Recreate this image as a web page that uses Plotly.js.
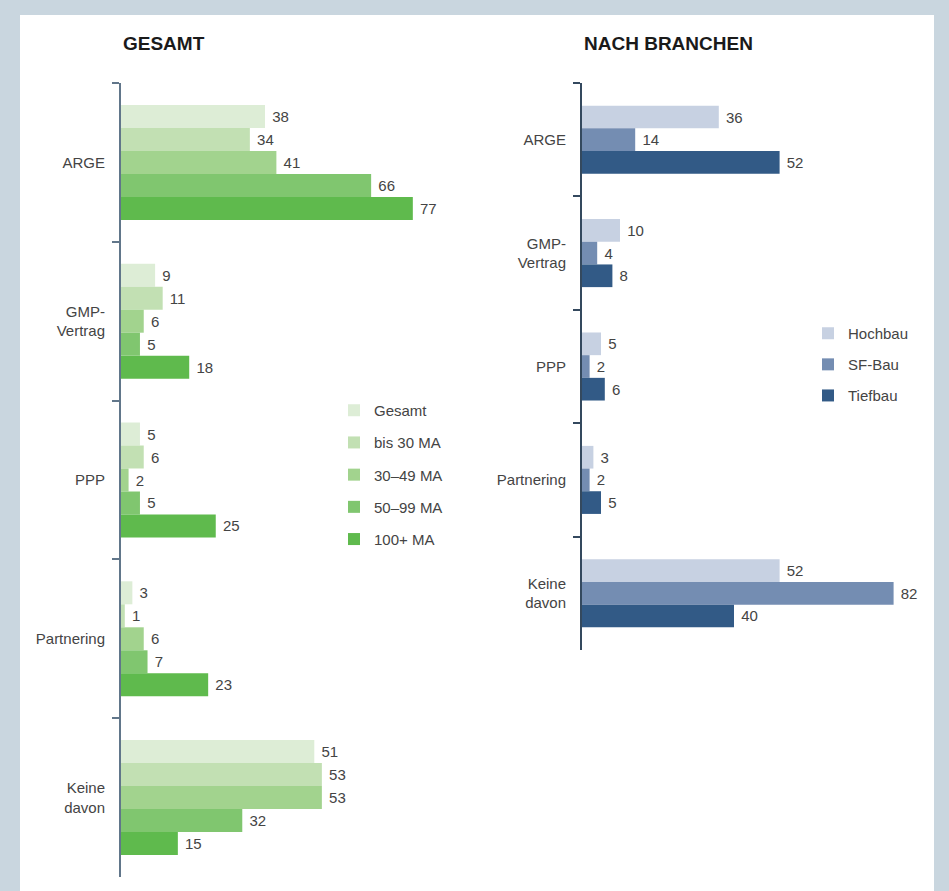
<!DOCTYPE html>
<html>
<head>
<meta charset="utf-8">
<script src="https://cdn.plot.ly/plotly-3.0.1.min.js"></script>
<style>html,body{margin:0;padding:0;background:#c9d6df;}#chart{width:949px;height:891px;}</style>
</head>
<body>
<div id="chart"></div>
<script>
// ---- data ----
const categories = ['ARGE', 'GMP-<br>Vertrag', 'PPP', 'Partnering', 'Keine<br>davon'];

const gesamtSeriesNames = ['Gesamt', 'bis 30 MA', '30–49 MA', '50–99 MA', '100+ MA'];
const gesamt     = [38, 9, 5, 3, 51];
const bis30MA    = [34, 11, 6, 1, 53];
const ma30to49   = [41, 6, 2, 6, 53];
const ma50to99   = [66, 5, 5, 7, 32];
const ma100plus  = [77, 18, 25, 23, 15];

const branchenSeriesNames = ['Hochbau', 'SF-Bau', 'Tiefbau'];
const hochbau = [36, 10, 5, 3, 52];
const sfBau   = [14, 4, 2, 2, 82];
const tiefbau = [52, 8, 6, 5, 40];

const titleLeft = 'GESAMT';
const titleRight = 'NACH BRANCHEN';

// ---- styles ----
const greenColors = ['#ddedd6', '#c2e0b3', '#a2d38e', '#80c66f', '#5fba4d'];
const blueColors = ['#c7d1e2', '#748db2', '#325a86'];
const textColor = '#444444';
const FONT = 'Liberation Sans, Arial, Helvetica, sans-serif';

const leftValues = [gesamt, bis30MA, ma30to49, ma50to99, ma100plus];
const rightValues = [hochbau, sfBau, tiefbau];

const rightWidth = (1 - 0.40) / 3;

const traces = [];
leftValues.forEach((vals, i) => {
  traces.push({
    type: 'bar', orientation: 'h',
    x: vals, y: categories,
    name: gesamtSeriesNames[i],
    marker: {color: greenColors[i], line: {width: 0}},
    text: vals.map(v => String(v)),
    texttemplate: '\u00a0%{text}',
    textposition: 'outside',
    textfont: {family: FONT, size: 15, color: textColor},
    cliponaxis: false,
    xaxis: 'x', yaxis: 'y',
    legend: 'legend',
    legendgroup: 'g' + i,
    hoverinfo: 'x+y'
  });
});
rightValues.forEach((vals, i) => {
  traces.push({
    type: 'bar', orientation: 'h',
    x: vals, y: categories,
    name: branchenSeriesNames[i],
    marker: {color: blueColors[i], line: {width: 0}},
    text: vals.map(v => String(v)),
    texttemplate: '\u00a0%{text}',
    textposition: 'outside',
    textfont: {family: FONT, size: 15, color: textColor},
    cliponaxis: false,
    width: rightWidth,
    offset: -1.5 * rightWidth + i * rightWidth,
    xaxis: 'x2', yaxis: 'y2',
    legend: 'legend2',
    legendgroup: 'b' + i,
    hoverinfo: 'x+y'
  });
});

const W = 949, H = 891;
const px = v => v / W;
const py = v => (H - v) / H;

const yAxisCommon = {
  type: 'category',
  autorange: 'reversed',
  showline: true,
  linewidth: 2,
  ticks: 'outside',
  tickson: 'boundaries',
  ticklen: 7,
  tickwidth: 2,
  showgrid: false,
  zeroline: false,
  ticklabelstandoff: 11,
  tickfont: {family: FONT, size: 15, color: textColor},
  fixedrange: true
};

const legendCommon = {
  xanchor: 'left', yanchor: 'top',
  bgcolor: 'rgba(0,0,0,0)',
  font: {family: FONT, size: 15, color: textColor},
  traceorder: 'grouped',
  itemwidth: 30,
  itemclick: false, itemdoubleclick: false
};

const layout = {
  width: W, height: H,
  margin: {l: 0, r: 0, t: 0, b: 0},
  paper_bgcolor: '#c9d6df',
  plot_bgcolor: 'rgba(0,0,0,0)',
  barmode: 'group',
  bargap: 0.276,
  bargroupgap: 0,
  showlegend: true,
  font: {family: FONT, color: textColor},
  xaxis: {
    domain: [px(121), px(121 + 379)],
    range: [0, 100],
    visible: false, fixedrange: true
  },
  yaxis: Object.assign({}, yAxisCommon, {
    domain: [py(877), py(83)],
    anchor: 'x',
    linecolor: '#61768a', tickcolor: '#61768a'
  }),
  xaxis2: {
    domain: [px(582), px(582 + 342)],
    range: [0, 90],
    visible: false, fixedrange: true
  },
  yaxis2: Object.assign({}, yAxisCommon, {
    domain: [py(650), py(83)],
    anchor: 'x2',
    linecolor: '#34495e', tickcolor: '#34495e'
  }),
  legend: Object.assign({}, legendCommon, {
    x: px(334), y: py(394), tracegroupgap: 9.7
  }),
  legend2: Object.assign({}, legendCommon, {
    x: px(808), y: py(317), tracegroupgap: 8.6
  }),
  shapes: [{
    type: 'rect', xref: 'paper', yref: 'paper', layer: 'below',
    x0: px(20), x1: px(934), y0: 0, y1: py(15),
    fillcolor: '#ffffff', line: {width: 0}
  }],
  annotations: [
    {text: '<b>' + titleLeft + '</b>', xref: 'paper', yref: 'paper',
     x: px(121), y: py(43), xanchor: 'left', yanchor: 'middle', showarrow: false,
     font: {family: FONT, size: 19, color: '#1a1a1a'}},
    {text: '<b>' + titleRight + '</b>', xref: 'paper', yref: 'paper',
     x: px(582), y: py(43), xanchor: 'left', yanchor: 'middle', showarrow: false,
     font: {family: FONT, size: 19, color: '#1a1a1a'}}
  ]
};

Plotly.newPlot('chart', traces, layout, {displayModeBar: false, staticPlot: true});
</script>
</body>
</html>
